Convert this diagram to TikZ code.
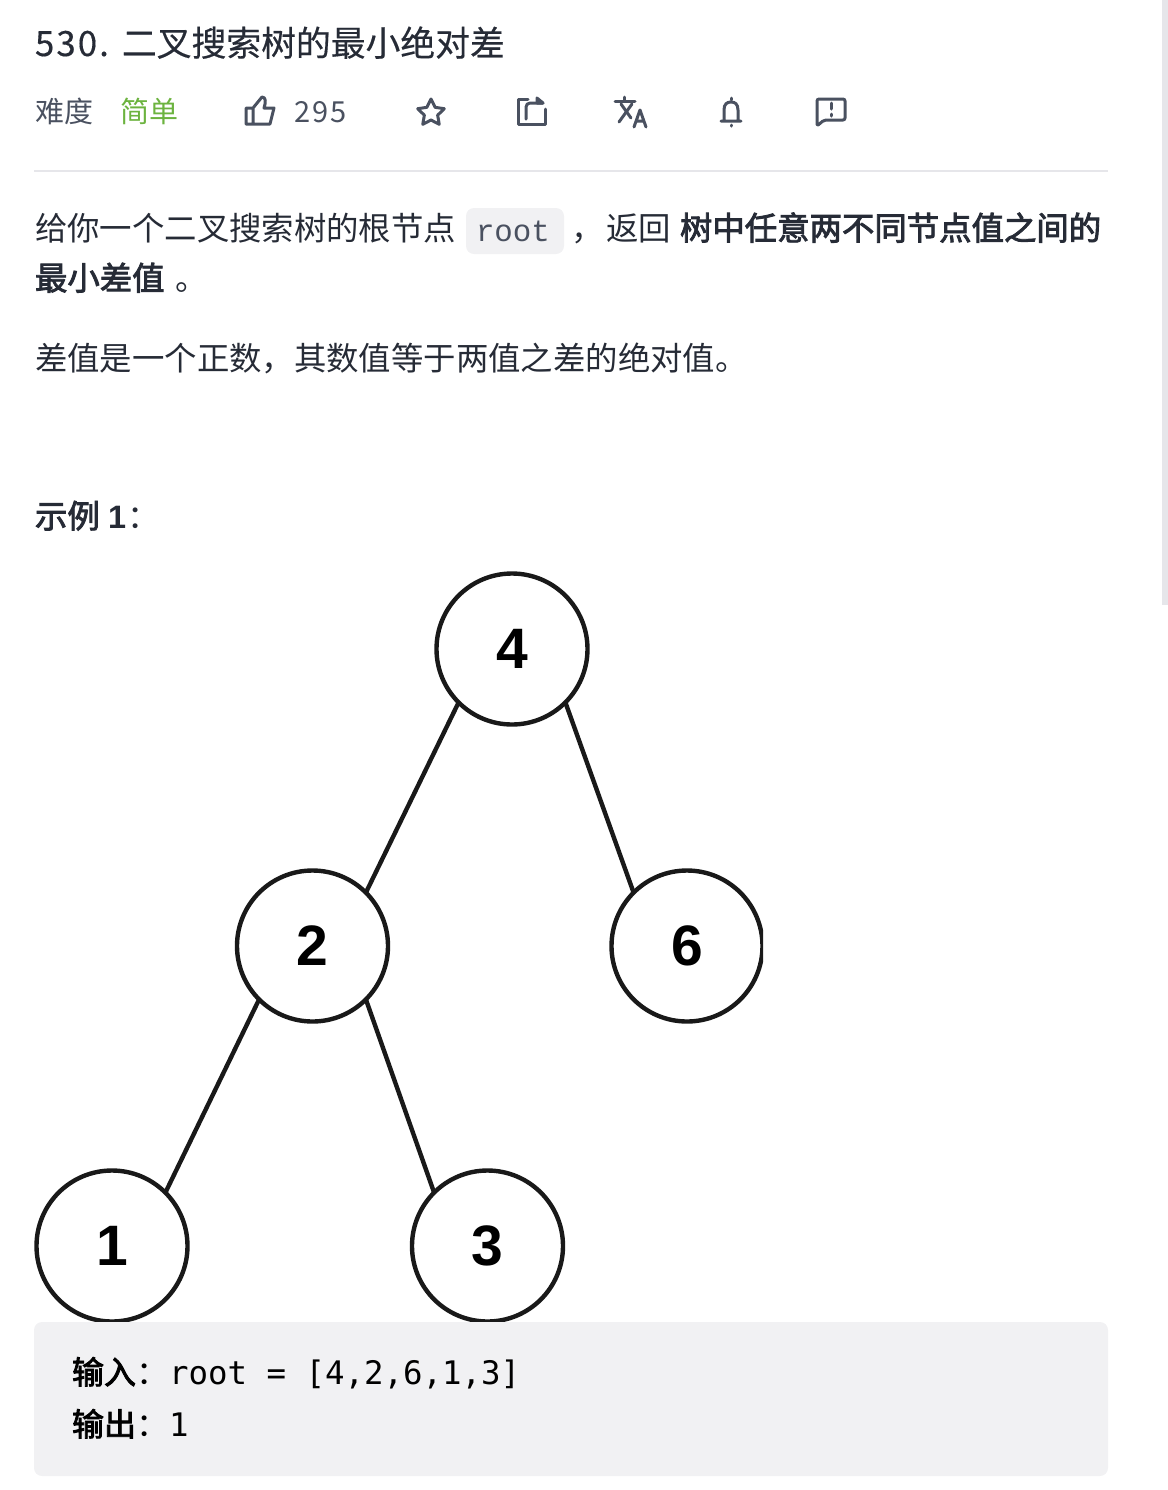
\documentclass[tikz,border=0pt]{standalone}
\usepackage{fontspec}
\setmainfont{Noto Sans CJK SC}
\setmonofont{DejaVu Sans Mono}
\newfontfamily\rootfont{Liberation Mono}
\newfontfamily\digitfont{Liberation Sans}
\newfontfamily\semifont[FakeBold=2.6]{Noto Sans CJK SC}
\newfontfamily\mediumfont[FakeBold=0.4]{Noto Sans CJK SC}
\usetikzlibrary{shapes.geometric}
\definecolor{inktext}{HTML}{262B36}
\definecolor{inkmuted}{HTML}{4A5160}
\definecolor{easygreen}{HTML}{6CB33F}
\definecolor{rulegray}{HTML}{E6E6EA}
\definecolor{boxgray}{HTML}{F1F1F3}
\tikzset{
	txt/.style={anchor=base west,inner sep=0pt,outer sep=0pt,text=inktext,font=\fontsize{16.2pt}{20pt}\selectfont},
	titletxt/.style={txt,font=\mediumfont\fontsize{17.4pt}{20pt}\selectfont},
	metatxt/.style={txt,text=inkmuted,font=\fontsize{14.5pt}{18pt}\selectfont},
	boldtxt/.style={txt,font=\semifont\fontsize{16.2pt}{20pt}\selectfont},
	boxtxt/.style={txt,text=black,font=\semifont\fontsize{16pt}{20pt}\selectfont},
	monotxt/.style={txt,text=black,font=\ttfamily\fontsize{16.2pt}{20pt}\selectfont},
	icon/.style={draw=inkmuted,line width=1.5pt,line join=round,line cap=round},
	treenode/.style={circle,draw=black!90,line width=2.2pt,fill=white,minimum size=75.5pt,inner sep=0pt,outer sep=0pt,font=\digitfont\fontsize{28.5pt}{29pt}\selectfont\bfseries},
	treeedge/.style={draw=black!90,line width=2.2pt}
}
\begin{document}
\begin{tikzpicture}[x=0.5pt,y=-0.5pt]
	\useasboundingbox (0,0) rectangle (1168,1490);
	% scrollbar
	\fill[rulegray] (1162,0) rectangle (1168,605);
	% header
	\node[titletxt] (number) at (35,56) {\addfontfeature{LetterSpace=6}530.};
	\node[titletxt] (title) at (122,56) {二叉搜索树的最小绝对差};
	\node[metatxt] (level) at (35,122) {难度};
	\node[metatxt,text=easygreen] (easy) at (120,122) {简单};
	\node[metatxt] (likes) at (294,122) {\addfontfeature{LetterSpace=8}295};
	% icons
	\draw[icon] (253,108) -- (262,97) .. controls (266,97) and (266,102) .. (264,108) -- (274,108) -- (270,124) -- (246,124) -- (246,108) -- (253,108) -- (253,124);
	\node[star,star points=5,star point ratio=2,draw=inkmuted,line width=1.5pt,line join=round,minimum size=14pt,inner sep=0pt] (fav) at (431,113) {};
	\draw[icon] (528,99) -- (518,99) -- (518,124) -- (545,124) -- (545,109);
	\draw[icon,rounded corners=2pt] (526,119) -- (526,103) -- (543,103);
	\draw[icon,fill=inkmuted] (537,98) -- (543,103) -- (537,103) -- cycle;
	\draw[icon] (615,101) -- (635,101) (624,97) -- (624,101);
	\draw[icon] (621,104) -- (631,118);
	\draw[icon] (632,104) -- (619,122);
	\draw[icon] (634,127) -- (640,110) -- (646,127) (636,121) -- (644,121);
	\draw[icon] (721,121) -- (741,121) (724,121) -- (724,110) .. controls (724,104) and (727,102) .. (731,102) .. controls (735,102) and (738,104) .. (738,110) -- (738,121);
	\draw[icon] (731,98) -- (731,100) (731,125) -- (731,126);
	\draw[icon,rounded corners=1pt] (817,126) -- (817,99) -- (845,99) -- (845,120) -- (824,120) -- cycle;
	\draw[icon] (831,103) -- (831,109) (831,114) -- (831,116);
	\draw[rulegray,line width=1pt] (34,171) -- (1108,171);
	% text
	\node[txt] (introa) at (35,240) {给你一个二叉搜索树的根节点};
	\fill[boxgray,rounded corners=4pt] (466,208) rectangle (564,254);
	\node[txt,text=inkmuted,font=\rootfont\fontsize{15.4pt}{20pt}\selectfont] (rootword) at (476,241) {root};
	\node[txt] (comma) at (571,240) {，};
	\node[txt] (back) at (606,240) {返回};
	\node[boldtxt] (introb) at (680,240) {树中任意两不同节点值之间的};
	\node[boldtxt] (introc) at (35,290) {最小差值};
	\node[txt] (stop) at (175,290) {。};
	\node[txt] (second) at (35,370) {差值是一个正数，其数值等于两值之差的绝对值。};
	\node[boldtxt] (example) at (35,528) {示例};
	\node[txt,font=\digitfont\fontsize{16.2pt}{20pt}\selectfont\bfseries] (examplenr) at (108,528) {1};
	\node[txt] (examplecolon) at (127,528) {：};
	% tree
	\begin{scope}
		\clip (30,560) rectangle (763,1322);
		\node[treenode] (four) at (512,649) {4};
		\node[treenode] (two) at (312.5,946) {2};
		\node[treenode] (six) at (687,946) {6};
		\node[treenode] (one) at (112,1246) {1};
		\node[treenode] (three) at (487.5,1246) {3};
		\draw[treeedge] (four.225) -- (two.45);
		\draw[treeedge] (four.-45) -- (six.135);
		\draw[treeedge] (two.225) -- (one.45);
		\draw[treeedge] (two.-45) -- (three.135);
	\end{scope}
	% example box
	\fill[boxgray,rounded corners=4pt] (34,1322) rectangle (1108,1476);
	\node[boxtxt] (inlabel) at (72,1384) {输入};
	\node[txt,text=black] (incolon) at (136,1384) {：};
	\node[monotxt] (inval) at (169,1384) {root = [4,2,6,1,3]};
	\node[boxtxt] (outlabel) at (72,1436) {输出};
	\node[txt,text=black] (outcolon) at (136,1436) {：};
	\node[monotxt] (outval) at (169,1436) {1};
\end{tikzpicture}
\end{document}
